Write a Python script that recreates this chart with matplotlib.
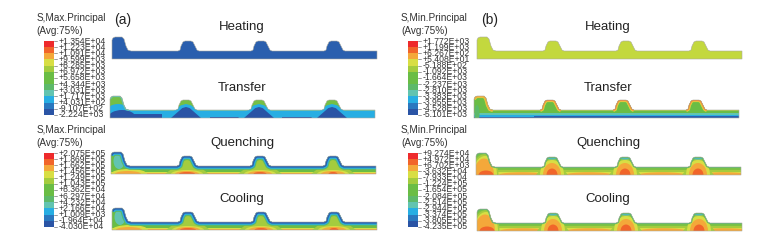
import matplotlib
matplotlib.use("Agg")
import matplotlib.pyplot as plt
from matplotlib.patches import Ellipse, PathPatch, Polygon, Rectangle
from matplotlib.path import Path

plt.rcParams["font.family"] = ["Liberation Sans", "DejaVu Sans"]

RED = "#ee2a2c"
RED_ORANGE = "#f1652a"
ORANGE = "#f4a83a"
YELLOW = "#d8de44"
LIME = "#a4cc3e"
GREEN = "#6abd45"
TEAL_GREEN = "#5db96a"
TEAL = "#62c4b0"
SKY = "#27aee3"
BLUE = "#2a78bf"
STEEL = "#2a5fae"
DARK = "#2a54a5"

legend_colors = [RED, RED_ORANGE, ORANGE, YELLOW, LIME, GREEN, GREEN, TEAL_GREEN, TEAL, SKY, BLUE, DARK]

labels_a1 = ["+1.354E+04", "+1.223E+04", "+1.091E+04", "+9.599E+03", "+8.285E+03", "+6.972E+03", "+5.658E+03",
             "+4.344E+03", "+3.031E+03", "+1.717E+03", "+4.031E+02", "-9.107E+02", "-2.224E+03"]
labels_a2 = ["+2.075E+05", "+1.869E+05", "+1.662E+05", "+1.456E+05", "+1.249E+05", "+1.043E+05", "+8.362E+04",
             "+6.297E+04", "+4.232E+04", "+2.166E+04", "+1.009E+03", "-1.964E+04", "-4.030E+04"]
labels_b1 = ["+1.772E+03", "+1.199E+03", "+6.267E+02", "+5.408E+01", "-5.188E+02", "-1.092E+03", "-1.664E+03",
             "-2.237E+03", "-2.810E+03", "-3.383E+03", "-3.955E+03", "-4.528E+03", "-5.101E+03"]
labels_b2 = ["+9.274E+04", "+4.972E+04", "+6.702E+03", "-3.632E+04", "-7.933E+04", "-1.224E+05", "-1.654E+05",
             "-2.084E+05", "-2.514E+05", "-2.944E+05", "-3.374E+05", "-3.805E+05", "-4.235E+05"]

step_names = ["Heating", "Transfer", "Quenching", "Cooling"]

# strip outline, px from the left end and up from the bottom edge
profile_x = [0, 0, 1, 3, 10, 12, 14, 16, 19,
             66, 68, 69, 71, 73, 79, 81, 83, 85, 87,
             139, 141, 142, 144, 146, 152, 154, 156, 158, 160,
             212, 214, 215, 217, 219, 225, 227, 229, 231, 233,
             265, 265]
profile_h = [0, 19, 21, 22, 22, 20, 13, 9, 8,
             8, 9, 13, 17, 18, 18, 17, 13, 9, 8,
             8, 9, 13, 17, 18, 18, 17, 13, 9, 8,
             8, 9, 13, 17, 18, 18, 17, 13, 9, 8,
             8, 0]

bump_x = [76, 149, 222]
# index ranges of the bumps in the outline lists
bump_spans = [(1, 8), (9, 18), (19, 28), (29, 38)]


def outline_path(x0, bottom):
    pts = [(x0 + x, bottom - h) for x, h in zip(profile_x, profile_h)]
    return Path(pts + [pts[0]], closed=True)


def top_path(x0, bottom, start=1, stop=None):
    stop = len(profile_x) - 1 if stop is None else stop + 1
    return Path([(x0 + x, bottom - h) for x, h in zip(profile_x[start:stop], profile_h[start:stop])])


def draw_strip(ax, x0, bottom, base, marks, rims):
    path = outline_path(x0, bottom)
    clip = PathPatch(path, fc=base, ec="none", zorder=2)
    ax.add_patch(clip)
    for mark in marks:
        ax.add_patch(mark)
        mark.set_clip_path(clip)
    for color, width, span in rims:
        spans = [(None, None)] if span is None else span
        for start, stop in spans:
            rim_path = top_path(x0, bottom, 1 if start is None else start, stop)
            rim = PathPatch(rim_path, fc="none", ec=color, lw=width, zorder=3, joinstyle="round", capstyle="butt")
            ax.add_patch(rim)
            rim.set_clip_path(clip)
    ax.add_patch(PathPatch(path, fc="none", ec="#a9a9a0", lw=0.4, zorder=4))


def band(x0, bottom, color, h, order=2.2):
    return Rectangle((x0, bottom - h), 270, h, fc=color, ec="none", zorder=order)


def blob(cx, cy, w, h, color, order=2.5):
    return Ellipse((cx, cy), w, h, fc=color, ec="none", zorder=order)


def mound(x0, bottom, cx, half, h, color, order):
    return Polygon([(x0 + cx - half, bottom), (x0 + cx - half * 0.25, bottom - h * 0.9), (x0 + cx, bottom - h),
                    (x0 + cx + half * 0.25, bottom - h * 0.9), (x0 + cx + half, bottom)],
                   fc=color, ec="none", zorder=order)


def draw_legend(ax, x, y, title, labels):
    ax.text(x - 7, y - 23, title, fontsize=7.2, color="#333333", va="center", ha="left")
    ax.text(x - 7, y - 10.5, "(Avg:75%)", fontsize=7.2, color="#333333", va="center", ha="left")
    step = 6.15
    for i, color in enumerate(legend_colors):
        ax.add_patch(Rectangle((x, y + i * step), 10, step, fc=color, ec="none", zorder=2))
    for i, label in enumerate(labels):
        yy = y + i * step
        ax.plot([x + 10, x + 13], [yy, yy], color="#555555", lw=0.4, zorder=2)
        ax.text(x + 15, yy, label, fontsize=6.2, color="#333333", va="center", ha="left")


fig = plt.figure(figsize=(7.64, 2.43), dpi=100)
ax = fig.add_axes([0, 0, 1, 1])
ax.set_xlim(0, 764)
ax.set_ylim(243, 0)
ax.axis("off")

draw_legend(ax, 43.5, 41, "S,Max.Principal", labels_a1)
draw_legend(ax, 43.5, 153, "S,Max.Principal", labels_a2)
draw_legend(ax, 408, 41, "S,Min.Principal", labels_b1)
draw_legend(ax, 408, 153, "S,Min.Principal", labels_b2)

ax.text(114, 20, "(a)", fontsize=10, color="#222222", va="center")
ax.text(481, 20, "(b)", fontsize=10, color="#222222", va="center")

title_y = [27, 88, 143, 199]
for name, y in zip(step_names, title_y):
    ax.text(242, y, name, fontsize=9.5, color="#222222", ha="center", va="center")
    ax.text(608, y, name, fontsize=9.5, color="#222222", ha="center", va="center")

# (a) heating
draw_strip(ax, 112, 59, STEEL, [], [])

# (a) transfer
x0, y0 = 110, 118
marks = [band(x0, y0, TEAL, 8, 2.1), band(x0, y0, SKY, 7, 2.2),
         Rectangle((x0 + 6, y0 - 4), 46, 4, fc=DARK, ec="none", zorder=2.3),
         Rectangle((x0 + 100, y0 - 1.5), 30, 1.5, fc=DARK, ec="none", zorder=2.3),
         Rectangle((x0 + 172, y0 - 1.5), 30, 1.5, fc=DARK, ec="none", zorder=2.3)]
for cx in bump_x:
    marks.append(mound(x0, y0, cx, 21, 14, SKY, 2.3))
    marks.append(mound(x0, y0, cx, 15, 11, DARK, 2.4))
marks.append(blob(x0 + 8, y0, 30, 28, SKY, 2.3))
marks.append(blob(x0 + 12, y0, 28, 16, DARK, 2.4))
draw_strip(ax, x0, y0, "#74bf45", marks, [(TEAL, 1.6, [bump_spans[0]])])

# (a) quenching and cooling
for x0, y0 in [(111, 174), (112, 230)]:
    marks = [band(x0, y0, YELLOW, 2.2), band(x0, y0, ORANGE, 1)]
    for cx, red_w in zip(bump_x, [16, 13, 9]):
        marks.append(mound(x0, y0, cx, 22, 14, LIME, 2.3))
        marks.append(blob(x0 + cx, y0, 32, 8, YELLOW, 2.4))
        marks.append(blob(x0 + cx, y0, 24, 6, ORANGE, 2.5))
        marks.append(blob(x0 + cx, y0, red_w, 4, RED_ORANGE, 2.6))
    marks.append(blob(x0 + 18, y0, 36, 10, YELLOW, 2.4))
    marks.append(blob(x0 + 17, y0, 26, 6, ORANGE, 2.5))
    marks.append(blob(x0 + 8, y0 - 13, 11, 16, TEAL, 2.15))
    draw_strip(ax, x0, y0, GREEN, marks, [(TEAL_GREEN, 5.5, None), (SKY, 4, None), (STEEL, 2.4, None)])

# (b) heating
draw_strip(ax, 477, 59, "#c3d83e", [], [])

# (b) transfer
x0, y0 = 474, 118
marks = [band(x0, y0, TEAL, 5), band(x0, y0, SKY, 3.5, 2.3), band(x0, y0, STEEL, 1.2, 2.4),
         Rectangle((x0 + 60, y0 - 2), 205, 2, fc=STEEL, ec="none", zorder=2.4),
         blob(x0 + 3, y0 - 4, 5, 18, TEAL_GREEN, 2.5)]
rims = [(LIME, 1.4, None), (YELLOW, 3, bump_spans), (ORANGE, 2.2, bump_spans), (RED_ORANGE, 0.7, bump_spans[1:])]
draw_strip(ax, x0, y0, GREEN, marks, rims)

# (b) quenching and cooling
for x0, y0 in [(476, 175), (477, 231)]:
    marks = [band(x0, y0, LIME, 5, 2.1), band(x0, y0, YELLOW, 3.5)]
    for cx in [46, 113, 186, 248]:
        marks.append(blob(x0 + cx, y0, 46, 5.5, ORANGE, 2.3))
    for cx in bump_x:
        marks.append(mound(x0, y0, cx, 16, 17, LIME, 2.4))
        marks.append(blob(x0 + cx, y0, 24, 30, YELLOW, 2.5))
        marks.append(blob(x0 + cx, y0, 18, 24, ORANGE, 2.6))
        marks.append(blob(x0 + cx, y0, 11, 13, RED_ORANGE, 2.7))
        marks.append(blob(x0 + cx, y0 - 18, 15, 5, "#4fb8c0", 2.8))
    marks.append(blob(x0 + 9, y0, 27, 42, LIME, 2.4))
    marks.append(blob(x0 + 9, y0, 24, 38, YELLOW, 2.5))
    marks.append(blob(x0 + 8, y0, 20, 33, ORANGE, 2.6))
    marks.append(blob(x0 + 10, y0, 15, 9, RED_ORANGE, 2.7))
    draw_strip(ax, x0, y0, "#7cc243", marks, [(TEAL_GREEN, 1.6, None)])

fig.savefig("out.png", dpi=100)
